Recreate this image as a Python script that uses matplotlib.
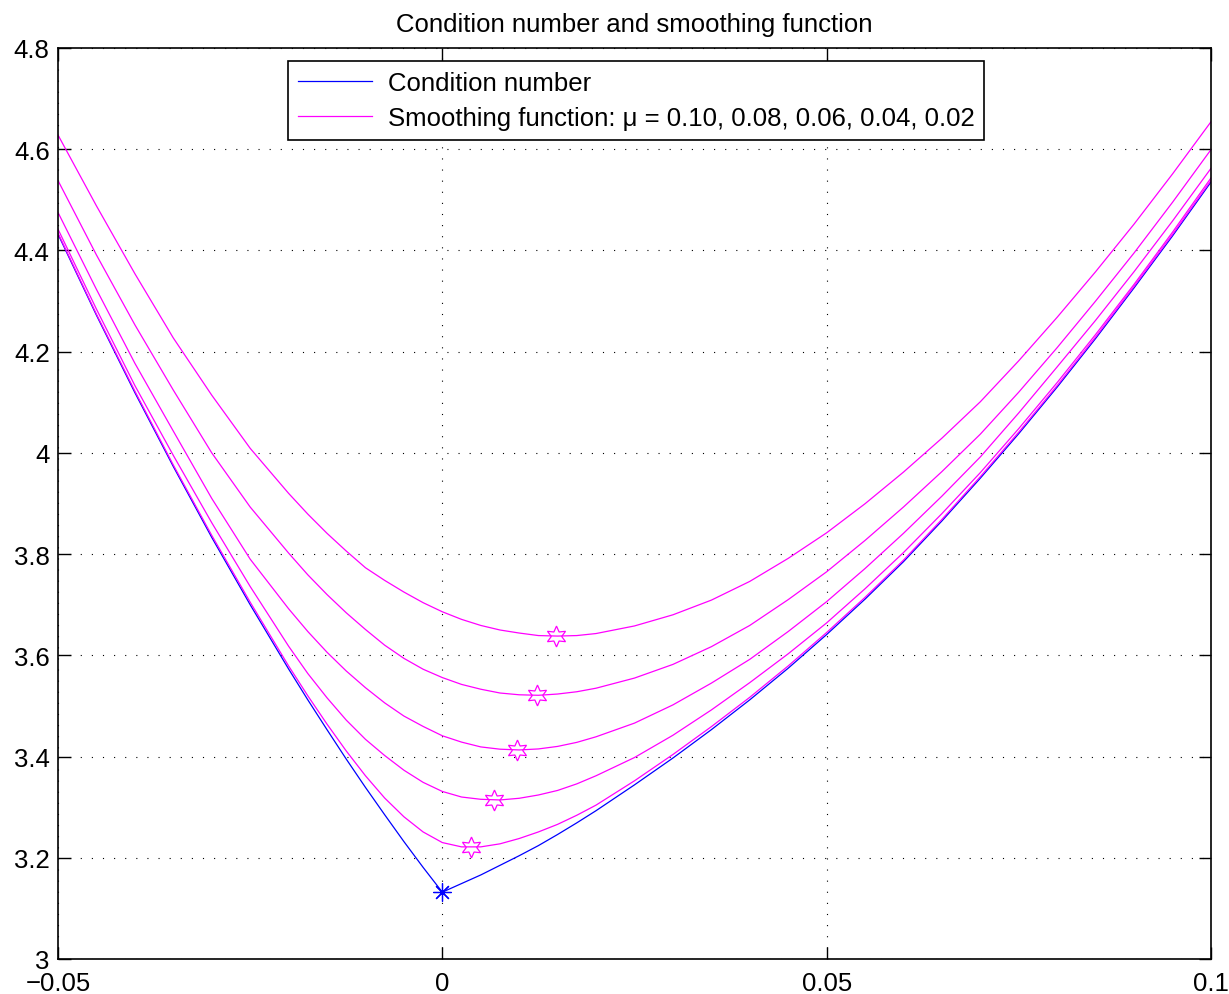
import matplotlib

matplotlib.use("Agg")
import matplotlib.pyplot as plt

x_werte = [-0.05, -0.045, -0.04, -0.035, -0.03, -0.025, -0.02, -0.0175, -0.015, -0.0125,
           -0.01, -0.0075, -0.005, -0.0025, 0.0, 0.0025, 0.005, 0.0075, 0.01, 0.0125,
           0.015, 0.0175, 0.02, 0.025, 0.03, 0.035, 0.04, 0.045, 0.05, 0.055,
           0.06, 0.065, 0.07, 0.075, 0.08, 0.085, 0.09, 0.095, 0.1]

kondition = [4.432, 4.272, 4.119, 3.973, 3.833, 3.700, 3.573, 3.512, 3.453, 3.395,
             3.339, 3.285, 3.232, 3.181, 3.132, 3.149, 3.166, 3.185, 3.204, 3.224,
             3.246, 3.269, 3.293, 3.344, 3.397, 3.453, 3.512, 3.5745, 3.641, 3.711,
             3.785, 3.8655, 3.950, 4.038, 4.130, 4.226, 4.326, 4.4285, 4.535]

glatt_mu_010 = [4.628, 4.488, 4.354, 4.227, 4.114, 4.009, 3.920, 3.879, 3.841, 3.806,
                3.773, 3.748, 3.725, 3.704, 3.686, 3.671, 3.659, 3.650, 3.644, 3.639,
                3.638, 3.639, 3.643, 3.658, 3.680, 3.709, 3.746, 3.7915, 3.842, 3.8995,
                3.962, 4.029, 4.101, 4.182, 4.268, 4.358, 4.452, 4.551, 4.654]

glatt_mu_008 = [4.538, 4.391, 4.253, 4.124, 4.000, 3.893, 3.802, 3.759, 3.720, 3.684,
                3.651, 3.620, 3.594, 3.5725, 3.556, 3.5425, 3.533, 3.5255, 3.522, 3.521,
                3.5235, 3.528, 3.535, 3.555, 3.582, 3.617, 3.659, 3.710, 3.765, 3.827,
                3.893, 3.963, 4.037, 4.120, 4.208, 4.300, 4.395, 4.495, 4.599]

glatt_mu_006 = [4.475, 4.323, 4.177, 4.043, 3.910, 3.790, 3.692, 3.647, 3.606, 3.569,
                3.536, 3.506, 3.480, 3.4595, 3.441, 3.4285, 3.419, 3.4145, 3.413, 3.415,
                3.420, 3.428, 3.439, 3.466, 3.502, 3.545, 3.592, 3.647, 3.706, 3.7715,
                3.841, 3.9145, 3.992, 4.079, 4.170, 4.262, 4.358, 4.458, 4.562]

glatt_mu_004 = [4.442, 4.284, 4.133, 3.995, 3.862, 3.736, 3.618, 3.564, 3.516, 3.472,
                3.434, 3.402, 3.373, 3.349, 3.331, 3.320, 3.3155, 3.3142, 3.3175, 3.324,
                3.333, 3.346, 3.362, 3.398, 3.442, 3.492, 3.546, 3.603, 3.664, 3.7315,
                3.803, 3.880, 3.961, 4.048, 4.139, 4.234, 4.333, 4.436, 4.543]

glatt_mu_002 = [4.434, 4.274, 4.122, 3.976, 3.837, 3.705, 3.579, 3.520, 3.464, 3.411,
                3.362, 3.318, 3.281, 3.251, 3.230, 3.2215, 3.2215, 3.2275, 3.238, 3.251,
                3.266, 3.284, 3.304, 3.352, 3.404, 3.459, 3.517, 3.579, 3.645, 3.7145,
                3.788, 3.8685, 3.953, 4.041, 4.133, 4.229, 4.329, 4.4315, 4.538]

# Minima der Glaettungsfunktionen (Sterne) und Knick der Konditionszahl
minimum_x = [0.0148, 0.0123, 0.0097, 0.0067, 0.0037]
minimum_y = [3.638, 3.521, 3.413, 3.314, 3.221]
knick_x = [0.0]
knick_y = [3.132]

x_ticks = [-0.05, 0.0, 0.05, 0.1]
x_tick_labels = ["\u22120.05", "0", "0.05", "0.1"]
y_ticks = [3.0, 3.2, 3.4, 3.6, 3.8, 4.0, 4.2, 4.4, 4.6, 4.8]
y_tick_labels = ["3", "3.2", "3.4", "3.6", "3.8", "4", "4.2", "4.4", "4.6", "4.8"]

plt.rcParams["font.family"] = ["Liberation Sans", "DejaVu Sans"]
SCHRIFT = 18.5

fig = plt.figure(figsize=(12.29, 9.95), dpi=100)
ax = fig.add_axes([0.0472, 0.0352, 0.9381, 0.9156])

MAGENTA = (1.0, 0.0, 1.0)
BLAU = (0.0, 0.0, 1.0)

linie_kond, = ax.plot(x_werte, kondition, color=BLAU, linewidth=0.9,
                      label="Condition number")
ax.plot(knick_x, knick_y, linestyle="none", marker=(8, 2, 0), markersize=13,
        markeredgecolor=BLAU, markeredgewidth=0.9)

glatt_kurven = [glatt_mu_010, glatt_mu_008, glatt_mu_006, glatt_mu_004, glatt_mu_002]
linie_glatt = None
for kurve in glatt_kurven:
    linie_glatt, = ax.plot(x_werte, kurve, color=MAGENTA, linewidth=0.9)
linie_glatt.set_label("Smoothing function: \u03bc = 0.10, 0.08, 0.06, 0.04, 0.02")

ax.plot(minimum_x, minimum_y, linestyle="none", marker=(6, 1, 0), markersize=15,
        markerfacecolor="none", markeredgecolor=MAGENTA, markeredgewidth=0.9)

ax.set_xlim(-0.05, 0.1)
ax.set_ylim(3.0, 4.8)
ax.set_xticks(x_ticks)
ax.set_xticklabels(x_tick_labels)
ax.set_yticks(y_ticks)
ax.set_yticklabels(y_tick_labels)
ax.tick_params(direction="in", top=True, right=True, length=9, width=1.0,
               labelsize=SCHRIFT, pad=6)
ax.tick_params(axis="x", pad=9)

ax.set_axisbelow(True)
ax.grid(True, color="black", linestyle=(0, (1, 9)), linewidth=0.8)
for spine in ax.spines.values():
    spine.set_linewidth(1.2)

ax.set_title("Condition number and smoothing function", fontsize=SCHRIFT, pad=12)

leg = ax.legend(handles=[linie_kond, linie_glatt], loc="upper left",
                bbox_to_anchor=(0.1995, 0.9852), borderaxespad=0, fancybox=False,
                edgecolor="black", framealpha=1, fontsize=SCHRIFT, handlelength=2.9,
                handletextpad=0.6, labelspacing=0.42, borderpad=0.38)
leg.get_frame().set_linewidth(1.2)

plt.savefig("out.png", dpi=100)
